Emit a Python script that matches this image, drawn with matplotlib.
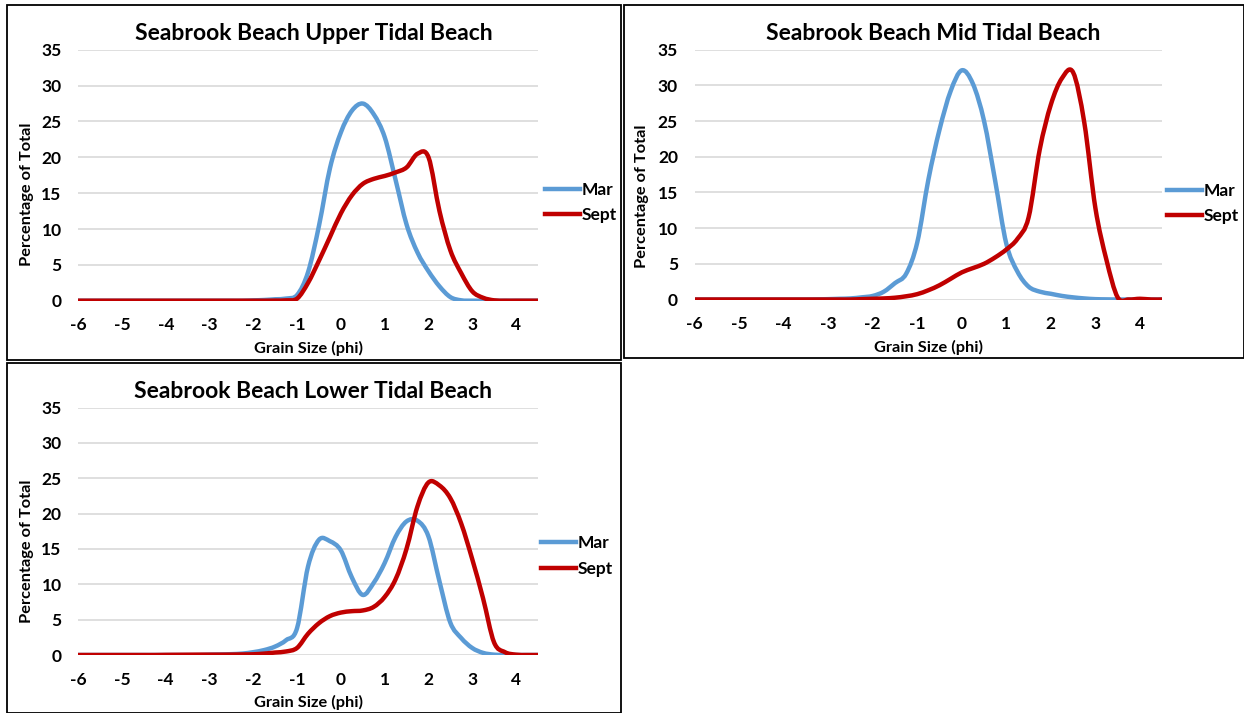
import matplotlib
matplotlib.use("Agg")
import matplotlib.pyplot as plt
import numpy as np
from matplotlib.path import Path
from matplotlib.patches import PathPatch, Rectangle
from matplotlib.lines import Line2D

plt.rcParams['font.family'] = ['Lato', 'DejaVu Sans']
plt.rcParams['font.weight'] = 'bold'

# ---------------- data ----------------
phi = [-6.0, -5.75, -5.5, -5.25, -5.0, -4.75, -4.5, -4.25, -4.0, -3.75, -3.5, -3.25,
       -3.0, -2.75, -2.5, -2.25, -2.0, -1.75, -1.5, -1.25, -1.0, -0.75, -0.5, -0.25,
       0.0, 0.25, 0.5, 0.75, 1.0, 1.25, 1.5, 1.75, 2.0, 2.25, 2.5, 2.75, 3.0, 3.25,
       3.5, 3.75, 4.0, 4.25, 4.5]

upper_mar = [0, 0, 0, 0, 0, 0, 0, 0, 0, 0, 0, 0,
             0, 0, 0, 0, 0.05, 0.1, 0.2, 0.3, 0.8, 4.0, 10.5, 18.5,
             23.5, 26.5, 27.5, 26.0, 22.8, 16.8, 10.6, 6.7, 4.1, 2.0, 0.5, 0.05, 0, 0,
             0, 0, 0, 0, 0]
upper_sept = [0, 0, 0, 0, 0, 0, 0, 0, 0, 0, 0, 0,
              0, 0, 0, 0, 0, 0, 0.02, 0.05, 0.3, 2.5, 5.6, 8.9,
              12.2, 14.7, 16.3, 17.0, 17.4, 17.9, 18.6, 20.5, 20.0, 12.5, 7.0, 3.8, 1.3, 0.4,
              0.05, 0, 0, 0, 0]

mid_mar = [0, 0, 0, 0, 0, 0, 0, 0, 0, 0, 0, 0.02,
           0.05, 0.1, 0.15, 0.3, 0.5, 1.1, 2.3, 3.6, 8.0, 16.8, 23.8, 29.2,
           32.1, 30.2, 25.0, 16.6, 7.8, 3.9, 1.8, 1.1, 0.8, 0.5, 0.3, 0.15, 0.05, 0.02,
           0, 0, 0, 0, 0]
mid_sept = [0, 0, 0, 0, 0, 0, 0, 0, 0, 0, 0, 0,
            0, 0, 0, 0.05, 0.1, 0.15, 0.25, 0.45, 0.75, 1.3, 2.0, 2.9,
            3.8, 4.4, 5.0, 5.9, 7.0, 8.5, 11.5, 21.0, 27.3, 31.0, 31.8, 24.8, 12.8, 5.5,
            0.3, 0.0, 0.1, 0, 0]

lower_mar = [0, 0, 0, 0, 0, 0, 0, 0, 0, 0, 0, 0,
             0.05, 0.08, 0.12, 0.2, 0.4, 0.7, 1.2, 2.1, 3.8, 12.5, 16.3, 16.1,
             14.8, 11.0, 8.5, 10.2, 13.0, 16.7, 18.9, 19.0, 16.8, 10.5, 4.6, 2.4, 1.0, 0.3,
             0.05, 0, 0, 0, 0]
lower_sept = [0, 0, 0, 0, 0, 0, 0, 0, 0.02, 0.03, 0.04, 0.05,
              0.05, 0.05, 0.06, 0.08, 0.1, 0.2, 0.35, 0.5, 1.0, 3.0, 4.5, 5.5,
              6.0, 6.2, 6.3, 6.8, 8.2, 10.7, 15.0, 21.0, 24.4, 24.0, 22.2, 18.6, 13.6, 8.0,
              1.8, 0.4, 0.05, 0, 0]

titles = ["Seabrook Beach Upper Tidal Beach",
          "Seabrook Beach Mid Tidal Beach",
          "Seabrook Beach Lower Tidal Beach"]
series_names = ["Mar", "Sept"]
x_ticks = [-6, -5, -4, -3, -2, -1, 0, 1, 2, 3, 4]
y_ticks = [0, 5, 10, 15, 20, 25, 30, 35]
xlabel = "Grain Size (phi)"
ylabel = "Percentage of Total"

panels = [(upper_mar, upper_sept), (mid_mar, mid_sept), (lower_mar, lower_sept)]

# ---------------- style ----------------
BLUE = "#5B9BD5"
RED = "#C00000"
GRID = "#D9D9D9"
W, H = 1244, 713

fig = plt.figure(figsize=(W / 100, H / 100), dpi=100)


def rect(l, t, r, b):
    return [l / W, 1 - b / H, (r - l) / W, (b - t) / H]


def smooth_path(x, y):
    """Catmull-Rom style smoothed path (like Excel's smoothed lines)."""
    x = np.asarray(x, float)
    y = np.asarray(y, float)
    pts = np.column_stack([x, y])
    n = len(pts)
    verts = [pts[0]]
    codes = [Path.MOVETO]
    for i in range(n - 1):
        p0 = pts[i - 1] if i > 0 else pts[i]
        p1 = pts[i]
        p2 = pts[i + 1]
        p3 = pts[i + 2] if i + 2 < n else pts[i + 1]
        c1 = p1 + (p2 - p0) / 6.0
        c2 = p2 - (p3 - p1) / 6.0
        verts += [c1, c2, p2]
        codes += [Path.CURVE4] * 3
    return Path(verts, codes)


layout = [
    dict(ax=(78.2, 49.8, 538.0, 300.7), box=(7, 5, 621, 360), title=(313.5, 33.5),
         ylab=(27, 194.5), xlab=(309, 348), leg=(545, 202.5)),
    dict(ax=(694.6, 49.6, 1162.2, 299.5), box=(624, 5, 1243.5, 358), title=(933.5, 34),
         ylab=(642, 196), xlab=(928, 347), leg=(1167, 203.5)),
    dict(ax=(78.2, 407.6, 537.8, 655.0), box=(7, 363, 621, 712.5), title=(313.5, 392),
         ylab=(27, 551.5), xlab=(309, 702), leg=(541, 556)),
]

for k, (lay, (mar, sept)) in enumerate(zip(layout, panels)):
    bl, bt, br, bb = lay["box"]
    fig.add_artist(Rectangle((bl / W, 1 - bb / H), (br - bl) / W, (bb - bt) / H,
                             transform=fig.transFigure, fill=False,
                             edgecolor="black", linewidth=1.3))
    ax = fig.add_axes(rect(*lay["ax"]))
    ax.set_xlim(-6, 4.5)
    ax.set_ylim(0, 35)
    ax.set_xticks(x_ticks)
    ax.set_yticks(y_ticks)
    ax.set_xticklabels([str(v) for v in x_ticks], fontsize=12.5, fontweight="bold")
    ax.set_yticklabels([str(v) for v in y_ticks], fontsize=12.5, fontweight="bold")
    ax.tick_params(axis="both", length=0, colors="black")
    ax.tick_params(axis="x", pad=12)
    ax.tick_params(axis="y", pad=12)
    for s in ax.spines.values():
        s.set_visible(False)
    ax.grid(axis="y", color=GRID, linewidth=1.2)
    ax.set_axisbelow(True)
    for vals, col in ((mar, BLUE), (sept, RED)):
        ax.add_patch(PathPatch(smooth_path(phi, vals), fill=False, edgecolor=col,
                               linewidth=3.2, capstyle="round", joinstyle="round",
                               zorder=3))
    handles = [Line2D([], [], color=BLUE, linewidth=3.2),
               Line2D([], [], color=RED, linewidth=3.2)]
    lx, ly = lay["leg"]
    ax.legend(handles, series_names, loc="center left",
              bbox_to_anchor=(lx / W, 1 - ly / H), bbox_transform=fig.transFigure,
              frameon=False, handlelength=2.0, handletextpad=0.1,
              borderpad=0, borderaxespad=0, labelspacing=0.55,
              prop={"weight": "bold", "size": 12.5})
    tx, ty = lay["title"]
    fig.text(tx / W, 1 - ty / H, titles[k], ha="center", va="center",
             fontsize=16.5, fontweight="bold")
    yx, yy = lay["ylab"]
    fig.text(yx / W, 1 - yy / H, ylabel, ha="center", va="center", rotation=90,
             fontsize=11.8, fontweight="bold")
    xx, xy = lay["xlab"]
    fig.text(xx / W, 1 - xy / H, xlabel, ha="center", va="center",
             fontsize=11.8, fontweight="bold")

fig.savefig("out.png", dpi=100, facecolor="white")
